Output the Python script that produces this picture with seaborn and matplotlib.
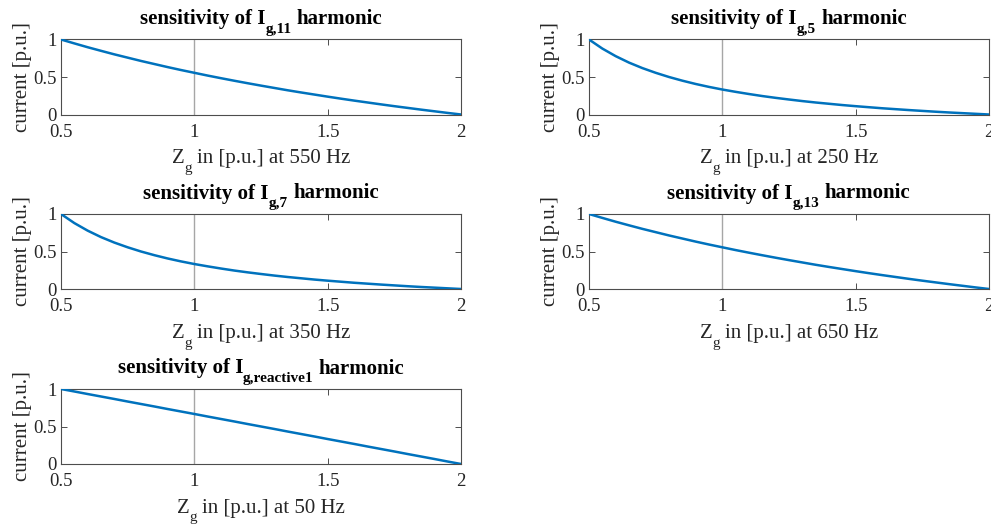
import numpy as np
import pandas as pd
import matplotlib
matplotlib.use("Agg")
import matplotlib.pyplot as plt
import seaborn as sns

# Grid impedance Z_g [p.u.]
zg = [0.50, 0.55, 0.60, 0.65, 0.70, 0.75, 0.80, 0.85, 0.90, 0.95,
      1.00, 1.05, 1.10, 1.15, 1.20, 1.25, 1.30, 1.35, 1.40, 1.45,
      1.50, 1.55, 1.60, 1.65, 1.70, 1.75, 1.80, 1.85, 1.90, 1.95, 2.00]

# Normalised harmonic currents [p.u.]
i_g11 = [1.000, 0.948, 0.897, 0.849, 0.802, 0.758, 0.714, 0.673, 0.632, 0.593,
         0.556, 0.519, 0.484, 0.450, 0.417, 0.385, 0.354, 0.323, 0.294, 0.266,
         0.238, 0.211, 0.185, 0.160, 0.135, 0.111, 0.088, 0.065, 0.043, 0.021, 0.000]
i_g5 = [1.000, 0.879, 0.778, 0.692, 0.619, 0.556, 0.500, 0.451, 0.407, 0.368,
        0.333, 0.302, 0.273, 0.246, 0.222, 0.200, 0.179, 0.160, 0.143, 0.126,
        0.111, 0.097, 0.083, 0.071, 0.059, 0.048, 0.037, 0.027, 0.018, 0.009, 0.000]
i_g7 = [1.000, 0.879, 0.778, 0.692, 0.619, 0.556, 0.500, 0.451, 0.407, 0.368,
        0.333, 0.302, 0.273, 0.246, 0.222, 0.200, 0.179, 0.160, 0.143, 0.126,
        0.111, 0.097, 0.083, 0.071, 0.059, 0.048, 0.037, 0.027, 0.018, 0.009, 0.000]
i_g13 = [1.000, 0.948, 0.897, 0.849, 0.802, 0.758, 0.714, 0.673, 0.632, 0.593,
         0.556, 0.519, 0.484, 0.450, 0.417, 0.385, 0.354, 0.323, 0.294, 0.266,
         0.238, 0.211, 0.185, 0.160, 0.135, 0.111, 0.088, 0.065, 0.043, 0.021, 0.000]
i_greact = [1.000, 0.967, 0.933, 0.900, 0.867, 0.833, 0.800, 0.767, 0.733, 0.700,
            0.667, 0.633, 0.600, 0.567, 0.533, 0.500, 0.467, 0.433, 0.400, 0.367,
            0.333, 0.300, 0.267, 0.233, 0.200, 0.167, 0.133, 0.100, 0.067, 0.033, 0.000]

subscripts = ["11", "5", "7", "13", "reactive1"]
frequencies = [550, 250, 350, 650, 50]
series = [i_g11, i_g5, i_g7, i_g13, i_greact]

xticks = [0.5, 1, 1.5, 2]
xticklabels = ["0.5", "1", "1.5", "2"]
yticks = [0, 0.5, 1]
yticklabels = ["0", "0.5", "1"]

sns.set_style("ticks")
plt.rcParams["font.family"] = ["Liberation Serif", "DejaVu Serif"]

W, H = 991, 528
fig = plt.figure(figsize=(W / 100, H / 100), dpi=100)
renderer = fig.canvas.get_renderer()

lefts = [61, 589]
tops = [39.5, 214, 389]
ax_w, ax_h = 400, 75
slots = [(0, 0), (0, 1), (1, 0), (1, 1), (2, 0)]

axis_col = "#4d4d4d"
text_col = "#262626"
line_col = "#0072BD"

MAIN_FS = 15
SUB_FS = 11
SUB_DROP = 8.5      # px the subscript baseline sits below the main baseline
SPACE = 0.25        # em


def rich_label(cx, baseline, parts, weight, color):
    """Draw a centred label made of (text, is_subscript, lead_space) pieces.

    cx, baseline are in pixels from the top-left corner of the figure."""
    texts, widths, gaps = [], [], []
    for s, is_sub, lead in parts:
        fs = SUB_FS if is_sub else MAIN_FS
        t = fig.text(0, 0, s, fontsize=fs, fontweight=weight, color=color,
                     ha="left", va="baseline")
        widths.append(t.get_window_extent(renderer).width)
        gaps.append(SPACE * MAIN_FS * 100 / 72 if lead else 0.0)
        texts.append((t, is_sub))
    total = sum(widths) + sum(gaps)
    x = cx - total / 2
    for (t, is_sub), w, g in zip(texts, widths, gaps):
        x += g
        y = baseline + (SUB_DROP if is_sub else 0)
        t.set_position((x / W, 1 - y / H))
        x += w


for (row, col), sub, freq, vals in zip(slots, subscripts, frequencies, series):
    x0 = lefts[col] / W
    y0 = 1 - (tops[row] + ax_h) / H
    ax = fig.add_axes([x0, y0, ax_w / W, ax_h / H])
    df = pd.DataFrame({"zg": zg, "i": vals})
    ax.axvline(1, color="#a6a6a6", lw=1.0, zorder=1)
    sns.lineplot(data=df, x="zg", y="i", ax=ax, color=line_col, lw=1.8, zorder=3)
    ax.set_xlim(0.5, 2)
    ax.set_ylim(0, 1)
    ax.set_xticks(xticks)
    ax.set_xticklabels(xticklabels)
    ax.set_yticks(yticks)
    ax.set_yticklabels(yticklabels)
    ax.tick_params(direction="in", length=4, width=0.7, color=axis_col,
                   labelsize=13.5, labelcolor=text_col, top=True, right=True)
    ax.tick_params(axis="x", pad=6.5)
    ax.tick_params(axis="y", pad=3)
    for sp in ax.spines.values():
        sp.set_visible(True)
        sp.set_color(axis_col)
        sp.set_linewidth(0.8)
    ax.set_xlabel("")
    ax.set_ylabel("current [p.u.]", fontsize=MAIN_FS, color=text_col, labelpad=1)

    cx = lefts[col] + ax_w / 2
    top = tops[row]
    rich_label(cx, top - 15.5,
               [("sensitivity of I", False, False), ("g," + sub, True, False),
                ("harmonic", False, True)],
               "bold", "black")
    rich_label(cx, top + 124,
               [("Z", False, False), ("g", True, False),
                (f"in [p.u.] at {freq} Hz", False, True)],
               "normal", text_col)

fig.savefig("out.png", dpi=100)
